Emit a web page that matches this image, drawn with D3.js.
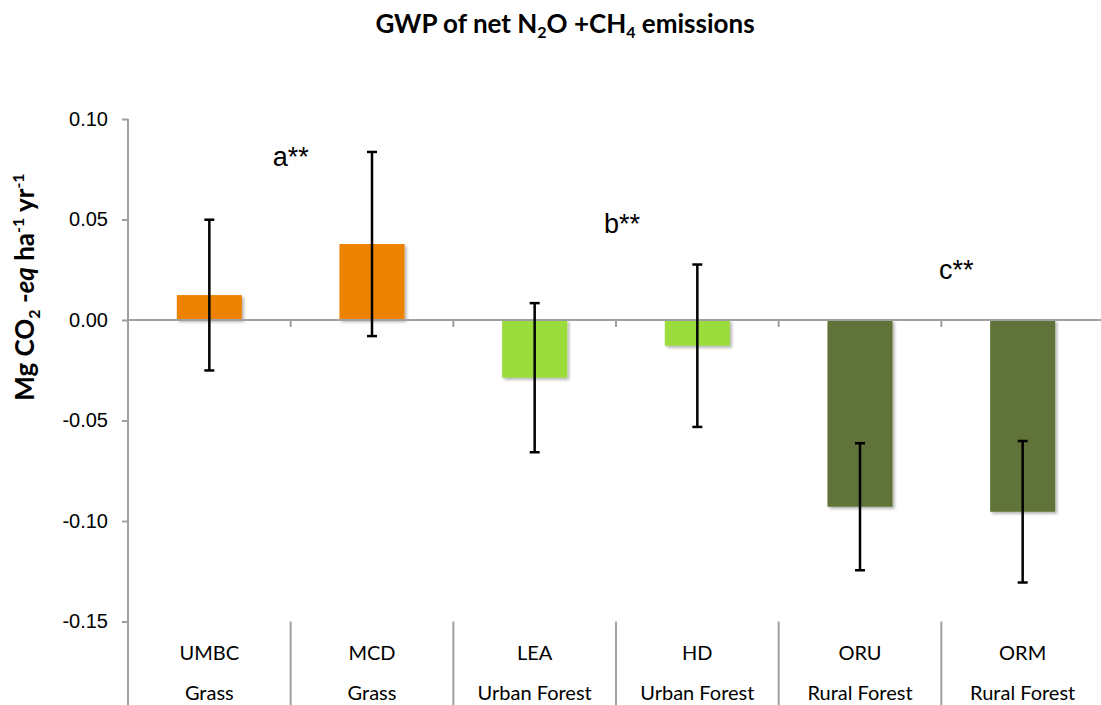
<!DOCTYPE html>
<html>
<head>
<meta charset="utf-8">
<script src="https://cdn.jsdelivr.net/npm/d3@7"></script>
<style>
  body { margin: 0; background: #fff; }
  svg { display: block; }
</style>
</head>
<body>
<script>
// Chart data
const sites = ['UMBC', 'MCD', 'LEA', 'HD', 'ORU', 'ORM'];
const landUse = ['Grass', 'Grass', 'Urban Forest', 'Urban Forest', 'Rural Forest', 'Rural Forest'];
const gwp = [0.0124, 0.0378, -0.0287, -0.0128, -0.0929, -0.0954];
const gwpErr = [0.0375, 0.0458, 0.0371, 0.0404, 0.0316, 0.0352];
const barColors = ['#ec8205', '#ec8205', '#9bdc3c', '#9bdc3c', '#607337', '#607337'];
const yTicks = [0.1, 0.05, 0, -0.05, -0.1, -0.15];
const groupLabels = ['a**', 'b**', 'c**'];
const groupLabelAfter = [0, 2, 4]; // label sits just right of this site
const groupLabelY = [0.0766, 0.0433, 0.0204];

const width = 1101;
const height = 705;
const svg = d3
  .select('body')
  .append('svg')
  .attr('width', width)
  .attr('height', height);

// bar shadow like the office chart
const defs = svg.append('defs');
defs
  .append('filter')
  .attr('id', 'shadow')
  .attr('x', '-20%')
  .attr('y', '-20%')
  .attr('width', '140%')
  .attr('height', '140%')
  .append('feDropShadow')
  .attr('dx', 2)
  .attr('dy', 2)
  .attr('stdDeviation', 1.5)
  .attr('flood-color', '#000')
  .attr('flood-opacity', 0.3);

// scales
const x = d3
  .scaleBand()
  .domain(sites)
  .range([128, 1104])
  .paddingInner(0.6)
  .paddingOuter(0.3);
const step = x.step();
const left = 128;

const y = d3.scaleLinear().domain([-0.15, 0.1]).range([621.5, 119]);

// title
const title = svg
  .append('text')
  .attr('x', 565)
  .attr('y', 33)
  .attr('text-anchor', 'middle')
  .style('font-family', 'Lato, "Open Sans", sans-serif')
  .style('font-weight', 'bold')
  .style('font-size', '26px')
  .attr('fill', '#000');
title.append('tspan').text('GWP of net N');
title.append('tspan').attr('font-size', '16px').attr('dy', 5).text('2');
title.append('tspan').attr('dy', -5).text('O +CH');
title.append('tspan').attr('font-size', '16px').attr('dy', 5).text('4');
title.append('tspan').attr('dy', -5).text(' emissions');

// y axis label
const yLabel = svg
  .append('text')
  .attr('transform', 'translate(34, 287) rotate(-90)')
  .attr('text-anchor', 'middle')
  .style('font-family', 'Lato, "Open Sans", sans-serif')
  .style('font-weight', 'bold')
  .style('font-size', '26px')
  .attr('fill', '#000');
yLabel.append('tspan').text('Mg CO');
yLabel.append('tspan').attr('font-size', '16px').attr('dy', 6).text('2');
yLabel.append('tspan').attr('dy', -6).text(' -');
yLabel.append('tspan').style('font-style', 'italic').text('eq');
yLabel.append('tspan').text(' ha');
yLabel.append('tspan').attr('font-size', '16px').attr('dy', -10).text('-1');
yLabel.append('tspan').attr('dy', 10).text(' yr');
yLabel.append('tspan').attr('font-size', '16px').attr('dy', -10).text('-1');

// y axis
const yAxis = d3
  .axisLeft(y)
  .tickValues(yTicks)
  .tickSize(6)
  .tickPadding(14)
  .tickFormat((d) => d3.format('.2f')(d).replace('−', '-'));

const yAxisG = svg
  .append('g')
  .attr('transform', `translate(${left},0)`)
  .call(yAxis);
yAxisG.select('.domain').remove();
yAxisG.selectAll('.tick line').attr('stroke', '#a0a0a0').attr('stroke-width', 2);
yAxisG
  .selectAll('.tick text')
  .style('font-family', '"Liberation Sans", Arial, sans-serif')
  .style('font-size', '20px')
  .attr('fill', '#000');

// axis line runs through the category area too
svg
  .append('line')
  .attr('x1', left)
  .attr('x2', left)
  .attr('y1', y(0.1))
  .attr('y2', height)
  .attr('stroke', '#a0a0a0')
  .attr('stroke-width', 2);

// bars
svg
  .append('g')
  .selectAll('rect')
  .data(sites)
  .enter()
  .append('rect')
  .attr('x', (d) => x(d))
  .attr('width', x.bandwidth())
  .attr('y', (d, i) => y(Math.max(0, gwp[i])))
  .attr('height', (d, i) => Math.abs(y(gwp[i]) - y(0)))
  .attr('fill', (d, i) => barColors[i])
  .attr('filter', 'url(#shadow)');

// zero line with category ticks
svg
  .append('line')
  .attr('x1', left)
  .attr('x2', width)
  .attr('y1', y(0))
  .attr('y2', y(0))
  .attr('stroke', '#a0a0a0')
  .attr('stroke-width', 2);

svg
  .append('g')
  .selectAll('line')
  .data(sites.slice(1))
  .enter()
  .append('line')
  .attr('x1', (d) => x(d) - step * 0.3)
  .attr('x2', (d) => x(d) - step * 0.3)
  .attr('y1', y(0))
  .attr('y2', y(0) + 7)
  .attr('stroke', '#a0a0a0')
  .attr('stroke-width', 2);

// error bars
const errG = svg
  .append('g')
  .attr('stroke', '#000')
  .attr('stroke-width', 2.5);
sites.forEach((s, i) => {
  const cx = x(s) + x.bandwidth() / 2;
  const lo = y(gwp[i] - gwpErr[i]);
  const hi = y(gwp[i] + gwpErr[i]);
  errG.append('line').attr('x1', cx).attr('x2', cx).attr('y1', hi).attr('y2', lo);
  errG.append('line').attr('x1', cx - 5).attr('x2', cx + 5).attr('y1', hi).attr('y2', hi);
  errG.append('line').attr('x1', cx - 5).attr('x2', cx + 5).attr('y1', lo).attr('y2', lo);
});

// significance letters
svg
  .append('g')
  .selectAll('text')
  .data(groupLabels)
  .enter()
  .append('text')
  .attr('x', (d, i) => x(sites[groupLabelAfter[i]]) + x.bandwidth() + step * 0.3 + [0, 6, 15][i])
  .attr('y', (d, i) => y(groupLabelY[i]))
  .attr('text-anchor', 'middle')
  .style('font-family', '"Liberation Sans", Arial, sans-serif')
  .style('font-size', '27px')
  .attr('fill', '#000')
  .text((d) => d);

// category area: dividers and two rows of labels
svg
  .append('g')
  .selectAll('line')
  .data(sites.slice(1))
  .enter()
  .append('line')
  .attr('x1', (d) => x(d) - step * 0.3)
  .attr('x2', (d) => x(d) - step * 0.3)
  .attr('y1', y(-0.15))
  .attr('y2', height)
  .attr('stroke', '#a0a0a0')
  .attr('stroke-width', 2);

const catFont = 'Lato, "Open Sans", sans-serif';
svg
  .append('g')
  .selectAll('text')
  .data(sites)
  .enter()
  .append('text')
  .attr('x', (d) => x(d) + x.bandwidth() / 2)
  .attr('y', 660)
  .attr('text-anchor', 'middle')
  .style('font-family', catFont)
  .style('font-size', '20px')
  .attr('fill', '#000')
  .text((d) => d);

svg
  .append('g')
  .selectAll('text')
  .data(sites)
  .enter()
  .append('text')
  .attr('x', (d) => x(d) + x.bandwidth() / 2)
  .attr('y', 700)
  .attr('text-anchor', 'middle')
  .style('font-family', catFont)
  .style('font-size', '20px')
  .attr('fill', '#000')
  .text((d, i) => landUse[i]);
</script>
</body>
</html>
